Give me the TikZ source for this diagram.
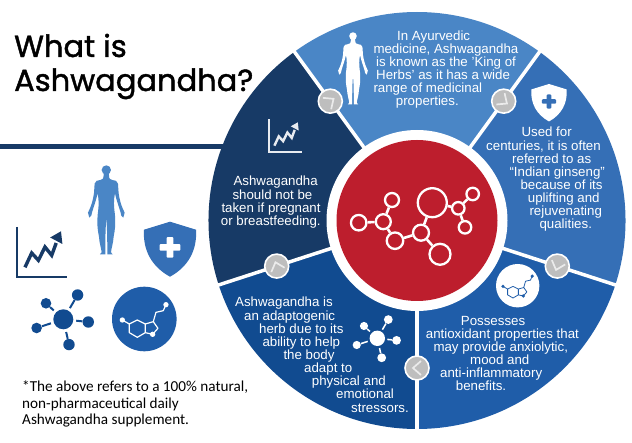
\documentclass[tikz,border=0pt]{standalone}
\usepackage{fontspec}
\setmainfont{Liberation Sans}
\newfontfamily\titlefont[FakeBold=1.4]{Poppins}
\newfontfamily\notefont{Carlito}
\definecolor{cTop}{HTML}{4A86C6}
\definecolor{cRight}{HTML}{356FB6}
\definecolor{cBR}{HTML}{1F5DA9}
\definecolor{cBL}{HTML}{114B90}
\definecolor{cUL}{HTML}{173A66}
\definecolor{cRed}{HTML}{BD1E2D}
\definecolor{cGray}{HTML}{BEBEBE}
\newcommand{\tl}[2]{\hspace*{#1pt}\rule{0pt}{10pt}#2}
\newcommand{\humanhalf}{(-1,-14) .. controls (-1,-14) and (5,-10) .. (6,-18) -- (8,-30) .. controls (8,-42) and (12,-44) .. (18,-45) .. controls (26,-46) and (34,-47) .. (35,-56) -- (37,-85) .. controls (40,-105) and (44,-118) .. (49,-130) -- (55,-143) -- (51,-158) -- (45,-152) -- (43,-143) .. controls (38,-125) and (30,-105) .. (26,-85) .. controls (22,-105) and (22,-120) .. (26,-150) .. controls (28,-180) and (26,-195) .. (22,-215) .. controls (21,-235) and (15,-250) .. (14,-262) -- (19,-268) -- (3,-268) .. controls (3,-240) and (3,-190) .. (0,-165) -- (-1,-165) -- cycle}
\newcommand{\human}[4]{% x, ytop, scale, colour
 \begin{scope}[shift={(#1,#2)},scale=#3,xscale=1]
 \fill[#4] (0,-15) circle (14);
 \fill[#4] \humanhalf;
 \begin{scope}[xscale=-1]\fill[#4] \humanhalf;\end{scope}
 \end{scope}}
\newcommand{\shield}[5]{% x, ytop, scale, shield colour, cross colour
 \begin{scope}[shift={(#1,#2)},scale=#3]
 \fill[#4] (0,0) -- (78,-24) .. controls (82,-85) and (55,-135) .. (0,-165) .. controls (-55,-135) and (-82,-85) .. (-78,-24) -- cycle;
 \fill[#5,rounded corners=1pt] (-10,-46) rectangle (10,-108);
 \fill[#5,rounded corners=1pt] (-31,-67) rectangle (31,-87);
 \end{scope}}
\newcommand{\charticon}[6]{% x, y(corner), scale, colour, axis lw, zig lw
 \begin{scope}[shift={(#1,#2)},scale=#3]
 \draw[#4,line width=#5] (0,50) -- (0,0) -- (50,0);
 \draw[#4,line width=#6,miter limit=10] (8.3,9.7) -- (15,24) -- (21.7,16.7) -- (28.3,30) -- (35,21.7) -- (39.5,34);
 \fill[#4] (44.3,45.7) -- (33.5,39.5) -- (45.7,33) -- cycle;
 \end{scope}}
\newcommand{\hubicon}[5]{% prefix, x, y, scale, colour
 \begin{scope}[shift={(#2,#3)}]
 \tikzset{hub/.style={circle,fill=#5,inner sep=0pt,minimum size={#4*##1*2pt}}}
 \node[hub=10] (#1c) at (0,0) {};
 \node[hub=5.7] (#1a) at ({#4*14.3},{#4*24.3}) {};
 \node[hub=5.3] (#1b) at ({#4*-17.3},{#4*16}) {};
 \node[hub=5.3] (#1d) at ({#4*-26.7},{#4*-8.7}) {};
 \node[hub=5.7] (#1e) at ({#4*25},{#4*-2.7}) {};
 \node[hub=5.7] (#1f) at ({#4*5.7},{#4*-25.3}) {};
 \foreach \s in {a,b,d,e,f}
   \draw[#5,line width={#4*2pt},shorten <={#4*2.8pt}] (#1c) -- (#1\s);
 \end{scope}}
\newcommand{\hexicon}[6]{% x, y, radius, circle colour, mol colour, lw
 \begin{scope}[shift={(#1,#2)}]
 \fill[#4] (0,0) circle (#3);
 \begin{scope}[scale={#3/97}]
 \draw[#5,line width=#6,line join=round]
   (-66,-3) -- (-45,-15) -- (-45,-41) -- (-21,-55) -- (3,-41) -- (3,-15) -- (-21,-3) -- (-45,-15)
   (3,-15) -- (27,-8) -- (41,-28) -- (25,-46) -- (3,-41)
   (27,-8) -- (35,20) -- (57,25) -- (65,43);
 \fill[#5] (-66,-3) circle (8) (25,-46) circle (8) (65,43) circle (8);
 \end{scope}
 \end{scope}}
\tikzset{
 para/.style={anchor=north west,inner sep=0pt,text=white,align=left,font=\fontsize{13.3}{13.15}\selectfont},
 graybtn/.style={circle,fill=cGray,draw=white,line width=1.6pt,inner sep=0pt,minimum size=24pt},
 chev/.style={draw=white!92!black,line width=1.7pt},
 mol/.style={circle,draw=white,fill=cRed,line width=2.3pt,inner sep=0pt},
 bond/.style={draw=white,line width=2.6pt},
 sep/.style={draw=white,line width=3.5pt},
}
\begin{document}
\begin{tikzpicture}[x=1pt,y=1pt]
\useasboundingbox (0,0) rectangle (632,442);
\fill[white] (0,0) rectangle (632,442);
% horizontal rule
\fill[cUL] (0,292.7) rectangle (230,297.7);
% wheel
\begin{scope}[shift={(417,221.5)}]
 \foreach \a/\b/\c in {54/126/cTop,-18/54/cRight,-90/-18/cBR,198/270/cBL,126/198/cUL}{
   \fill[\c] (0,0) -- (\a:208.5pt) arc[start angle=\a,end angle=\b,radius=208.5pt] -- cycle;
 }
 \foreach \a in {54,126,198,270,342}
   \draw[sep] (\a:85pt) -- (\a:210pt);
 \fill[white] (0,0) circle (90.5pt);
 \fill[cRed] (0,0) circle (80.5pt);
 \foreach \a in {54,126,198,270,342}{
   \node[graybtn] (btn\a) at (\a:147.5pt) {};
   \draw[chev,shift={(\a:147.5pt)},rotate={\a-90}] (-4,7) -- (4,0) -- (-4,-7);
 }
\end{scope}
% centre molecule
\node[mol,minimum size=15.5pt] (A) at (358.7,219.3) {};
\node[mol,minimum size=15pt] (B) at (383.3,220.3) {};
\node[mol,minimum size=14pt] (C) at (392,242) {};
\node[mol,minimum size=16.5pt] (D) at (395,201.3) {};
\node[mol,minimum size=16pt] (E) at (421,209.3) {};
\node[mol,minimum size=29pt] (F) at (432.3,239.3) {};
\node[mol,minimum size=21pt] (G) at (440,187.7) {};
\node[mol,minimum size=12.5pt] (H) at (458.3,233.7) {};
\node[mol,minimum size=12.5pt] (I) at (472.7,248) {};
\node[mol,minimum size=12.5pt] (J) at (465,214.7) {};
\foreach \u/\v in {A/B,B/C,B/D,D/E,E/F,E/G,F/H,H/I,H/J}
  \draw[bond] (\u) -- (\v);
% texts
\node[para] (t1) at (373.3,412) {\tl{23.7}{In Ayurvedic}\\\tl{0}{medicine, Ashwagandha}\\\tl{2.7}{is known as the 'King of}\\\tl{2.7}{Herbs' as it has a wide}\\\tl{0}{range of medicinal}\\\tl{22.4}{properties.}};
\node[para] (t2) at (486,315.3) {\tl{35.3}{Used for}\\\tl{0}{centuries, it is often}\\\tl{26}{referred to as}\\\tl{23.3}{“Indian ginseng”}\\\tl{34.3}{because of its}\\\tl{41.7}{uplifting and}\\\tl{43.3}{rejuvenating}\\\tl{53.3}{qualities.}};
\node[para] (t3) at (425.7,127) {\tl{35}{Possesses}\\\tl{0}{antioxidant properties that}\\\tl{7.6}{may provide anxiolytic,}\\\tl{44.3}{mood and}\\\tl{14.3}{anti-inflammatory}\\\tl{30}{benefits.}};
\node[para] (t4) at (235,145.3) {\tl{0}{Ashwagandha is}\\\tl{9}{an adaptogenic}\\\tl{24}{herb due to its}\\\tl{27.3}{ability to help}\\\tl{48.3}{the body}\\\tl{69}{adapt to}\\\tl{76.7}{physical and}\\\tl{101}{emotional}\\\tl{116}{stressors.}};
\node[para] (t5) at (220.7,266.3) {\tl{12.6}{Ashwagandha}\\\tl{11.6}{should not be}\\\tl{0.6}{taken if pregnant}\\\tl{0}{or breastfeeding.}};
% title
\node[anchor=base west,inner sep=0pt,font=\titlefont\fontsize{30.5}{36}\selectfont] (title1) at (14,385) {What is};
\node[anchor=base west,inner sep=0pt,font=\titlefont\fontsize{30.5}{36}\selectfont] (title2) at (14,351) {Ashwagandha?};
% footnote
\node[anchor=north west,inner sep=0pt,align=left,font=\notefont\fontsize{15.2}{16.5}\selectfont] (note) at (22,61) {*The above refers to a 100\% natural,\\non-pharmaceutical daily\\Ashwagandha supplement.};
% icons in the wheel
\human{353}{410}{0.27}{white}
\shield{549}{358}{0.227}{white}{cRight}
\charticon{269}{290}{0.65}{white!90!cUL}{1.1pt}{2.4pt}
\hubicon{w}{377.3}{103.7}{0.77}{white}
\hexicon{517.7}{156.3}{21.7pt}{white}{cBR}{0.8pt}
% icons on the left
\human{106.3}{277}{0.3333}{cTop}
\shield{170}{220.3}{0.3333}{cRight}{white}
\charticon{16.7}{165}{1}{cUL}{1.6pt}{3.4pt}
\hubicon{s}{63.3}{122.7}{1}{cBL}
\hexicon{144.3}{123}{32.3pt}{cBR}{white}{1.2pt}
\end{tikzpicture}
\end{document}
